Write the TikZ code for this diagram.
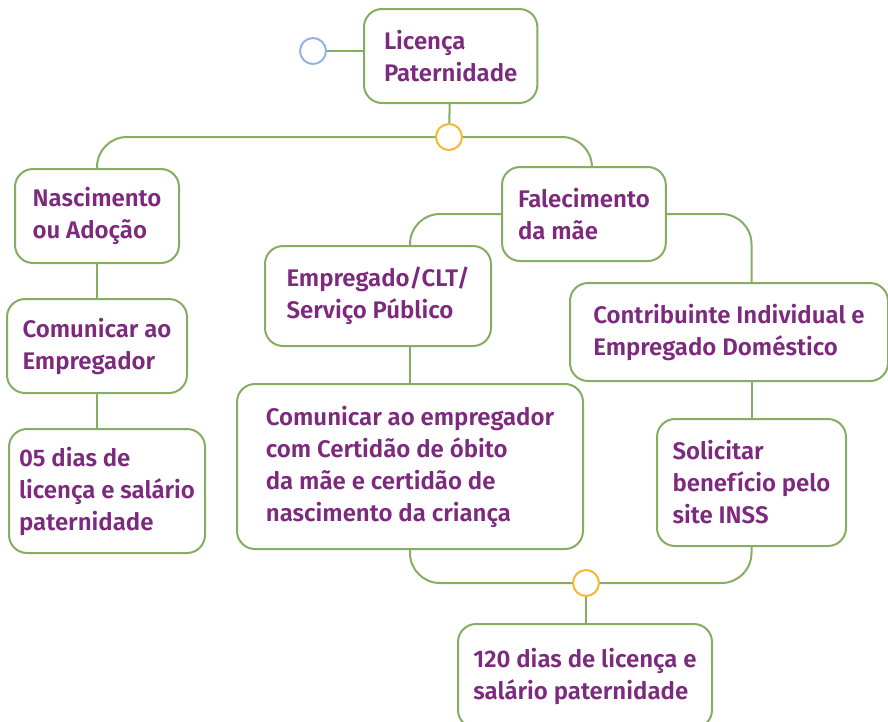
\documentclass[tikz,border=0pt]{standalone}
\usepackage{fontspec}
\setmainfont{Fira Sans}[BoldFont={Fira Sans SemiBold}]
\usepackage{xcolor}
\usetikzlibrary{positioning}
\definecolor{leaf}{HTML}{86AE62}
\definecolor{ink}{HTML}{7D2A7E}
\definecolor{sun}{HTML}{F7B733}
\definecolor{sky}{HTML}{92B4E3}
\tikzstyle{card}=[draw=leaf, line width=2pt, rounded corners=18pt, fill=white, anchor=north west, align=left, text=ink, font=\fontsize{24}{32}\selectfont\bfseries, inner ysep=0pt]
\tikzstyle{junction}=[circle, draw=sun, line width=2pt, fill=white, minimum size=26pt, inner sep=0pt]
\tikzstyle{link}=[draw=leaf, line width=2pt, rounded corners=30pt]

\begin{document}
\begin{tikzpicture}[x=1pt, y=-1pt]
    \useasboundingbox (0,0) rectangle (888,721);

    \node[card, inner xsep=20pt, minimum width=171pt, minimum height=94pt]  (root)     at (363,8)   {Licença\\Paternidade};
    \node[junction, draw=sky]                                               (start)    at (313,51)  {};
    \node[junction]                                                         (split)    at (449,137) {};

    \node[card, inner xsep=16pt, minimum width=164pt, minimum height=94pt]  (nasc)     at (14,168)  {Nascimento\\ou Adoção};
    \node[card, inner xsep=15pt, minimum width=180pt, minimum height=94pt]  (tellboss) at (6,298)   {Comunicar ao\\Empregador};
    \node[card, inner xsep=10pt, minimum width=196pt, minimum height=124pt] (fivedays) at (8,428)   {05 dias de\\licença e salário\\paternidade};

    \node[card, inner xsep=16pt, minimum width=162pt, minimum height=94pt]  (death)    at (501,166) {Falecimento\\da mãe};
    \node[card, inner xsep=18pt, minimum width=226pt, minimum height=100pt] (clt)      at (264,245) {Empregado/CLT/\\Serviço Público};
    \node[card, inner xsep=26pt, minimum width=346pt, minimum height=165pt] (certs)    at (236,383) {Comunicar ao empregador\\com Certidão de óbito\\da mãe e certidão de\\nascimento da criança};
    \node[card, inner xsep=22pt, minimum width=318pt, minimum height=98pt]  (contrib)  at (569,282) {Contribuinte Individual e\\Empregado Doméstico};
    \node[card, inner xsep=15pt, minimum width=189pt, minimum height=127pt] (inss)     at (656,418) {Solicitar\\benefício pelo\\site INSS};

    \node[junction]                                                         (merge)    at (586,583) {};
    \node[card, inner xsep=15pt, minimum width=254pt, minimum height=104pt] (days120)  at (457,623) {120 dias de licença e\\salário paternidade};

    \draw[link] (start) -- (start -| root.west);
    \draw[link] (root) -- (split);
    \draw[link] (split.west) -| (nasc.north);
    \draw[link] (split.east) -| ([xshift=8pt]death.north);

    \draw[link] (nasc.south) -- (nasc.south |- tellboss.north);
    \draw[link] (tellboss.south) -- (tellboss.south |- fivedays.north);

    \draw[link] (death.west) -| (certs.north |- clt.north);
    \draw[link] (death.east) -| (inss.north |- contrib.north);
    \draw[link] (certs.north |- clt.south) -- (certs.north);
    \draw[link] (inss.north |- contrib.south) -- (inss.north);

    \draw[link] (certs.south) |- (merge.west);
    \draw[link] (inss.south) |- (merge.east);
    \draw[link] (merge.south) -- (merge.south |- days120.north);
\end{tikzpicture}
\end{document}
